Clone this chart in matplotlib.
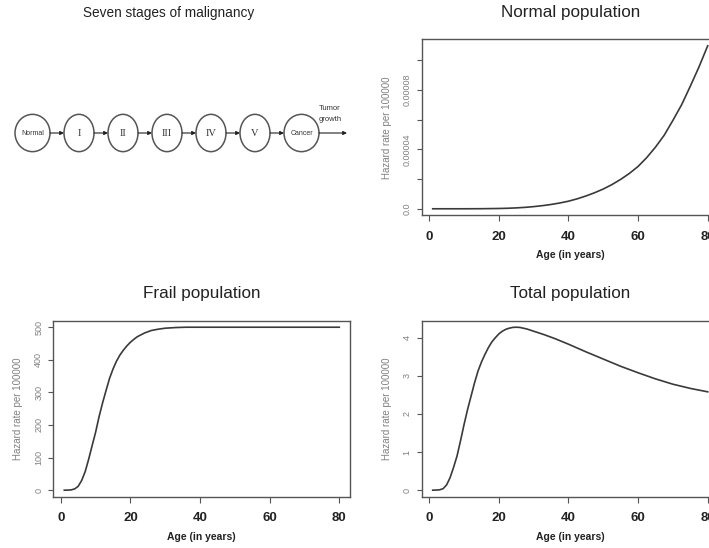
import matplotlib
matplotlib.use("Agg")
import matplotlib.pyplot as plt
from matplotlib.patches import Ellipse, FancyArrowPatch

plt.rcParams['font.family'] = ['Liberation Sans', 'DejaVu Sans']

# ---------------- data ----------------
stage_labels = ["Normal", "I", "II", "III", "IV", "V", "Cancer"]
end_label = "Tumor\ngrowth"

normal_age = [1, 10, 15, 20, 22.5, 25, 27.5, 30, 32.5, 35, 37.5, 40, 42.5, 45, 47.5, 50, 52.5,
              55, 57.5, 60, 62.5, 65, 67.5, 70, 72.5, 75, 77.5, 80]
normal_rate = [0.0, 0.0, 5.0e-8, 2.0e-7, 3.5e-7, 6.0e-7, 9.5e-7, 1.45e-6, 2.1e-6, 2.9e-6,
               3.9e-6, 5.1e-6, 6.7e-6, 8.6e-6, 1.08e-5, 1.33e-5, 1.63e-5, 1.98e-5, 2.38e-5,
               2.85e-5, 3.45e-5, 4.15e-5, 4.95e-5, 5.95e-5, 7.0e-5, 8.25e-5, 9.55e-5, 1.097e-4]

frail_age = [1, 2, 3, 4, 5, 6, 7, 8, 9, 10, 11, 12, 13, 14, 15, 16, 17, 18, 19, 20, 21, 22,
             24, 26, 28, 30, 33, 36, 40, 50, 60, 70, 80]
frail_rate = [0, 0.2, 1, 4, 12, 30, 57, 95, 137, 178, 226, 268, 306, 343, 372, 396, 415, 430,
              443, 454, 463, 471, 482, 490, 494, 497, 499, 500, 500, 500, 500, 500, 500]

total_age = [1, 2, 3, 4, 5, 6, 7, 8, 9, 10, 11, 12, 13, 14, 15, 16, 17, 18, 19, 20, 21, 22,
             23, 24, 25, 26, 28, 30, 33, 36, 40, 45, 50, 55, 60, 65, 70, 75, 80]
total_rate = [0, 0.003, 0.01, 0.04, 0.14, 0.33, 0.6, 0.9, 1.3, 1.72, 2.11, 2.46, 2.81, 3.12,
              3.36, 3.56, 3.74, 3.89, 4.0, 4.1, 4.17, 4.22, 4.25, 4.27, 4.275, 4.27, 4.23,
              4.17, 4.08, 3.98, 3.83, 3.63, 3.44, 3.25, 3.08, 2.92, 2.78, 2.67, 2.58]

x_ticks = [0, 20, 40, 60, 80]
normal_yticks = [0, 2e-5, 4e-5, 6e-5, 8e-5, 1e-4]
normal_yticklabels = ["0.0", "", "0.00004", "", "0.00008", ""]
frail_yticks = [0, 100, 200, 300, 400, 500]
total_yticks = [0, 1, 2, 3, 4]

xlabel = "Age (in years)"
ylabel = "Hazard rate per 100000"

# ---------------- figure ----------------
W, H = 709, 548
fig = plt.figure(figsize=(W / 100, H / 100), dpi=100)

LINE = "#3a3a3a"
FRAME = "#555555"
GRAY = "#808080"


def px_axes(left, top, width, height):
    return fig.add_axes([left / W, 1 - (top + height) / H, width / W, height / H])


def style_panel(ax, age, rate, title, yticks, yticklabels=None):
    ax.plot(age, rate, color=LINE, lw=1.2)
    lo, hi = min(age), max(age)
    r = hi - lo
    ax.set_xlim(lo - 0.04 * r, hi + 0.04 * r)
    ylo, yhi = min(rate), max(rate)
    yr = yhi - ylo
    ax.set_ylim(ylo - 0.04 * yr, yhi + 0.04 * yr)
    ax.set_xticks(x_ticks)
    ax.set_xticklabels([str(t) for t in x_ticks], fontsize=9.5, fontweight='bold', color="#222222")
    ax.set_yticks(yticks)
    if yticklabels is None:
        yticklabels = [str(t) for t in yticks]
    ax.set_yticklabels(yticklabels, fontsize=6.5, color=GRAY, rotation=90, va='center')
    ax.tick_params(axis='x', length=4, width=0.8, color=FRAME, pad=7)
    ax.tick_params(axis='y', length=3.3, width=0.8, color=FRAME, pad=4)
    for s in ax.spines.values():
        s.set_color(FRAME)
        s.set_linewidth(1.0)
    ax.set_title(title, fontsize=12.3, pad=16, color="#222222")
    ax.set_xlabel(xlabel, fontsize=7.5, fontweight='bold', color="#222222")
    ax.xaxis.set_label_coords(0.5, -35 / 176)
    ax.xaxis.label.set_va('top')
    ax.set_ylabel(ylabel, fontsize=7, color=GRAY)
    ax.yaxis.label.set_va('center')
    ax.yaxis.set_label_coords(-35 / 297, 0.5)


PW, PH = 297, 176
ax_n = px_axes(421.7, 39.3, PW, PH)
style_panel(ax_n, normal_age, normal_rate, "Normal population", normal_yticks, normal_yticklabels)

ax_f = px_axes(53.3, 320.7, PW, PH)
style_panel(ax_f, frail_age, frail_rate, "Frail population", frail_yticks)

ax_t = px_axes(421.7, 320.7, PW, PH)
style_panel(ax_t, total_age, total_rate, "Total population", total_yticks)

# ---------------- diagram ----------------
ax_d = px_axes(0, 0, 360, 270)
ax_d.set_xlim(0, 360)
ax_d.set_ylim(270, 0)
ax_d.axis('off')

ax_d.text(168.7, 17.3, "Seven stages of malignancy", fontsize=9.8, ha='center', va='baseline',
          color="#222222")

cy = 133
eh = 37.3
gap = 14
x = 15
edges = []
for lab in stage_labels:
    big = lab in ("Normal", "Cancer")
    w = 35 if big else 30
    ax_d.add_patch(Ellipse((x + w / 2, cy), w, eh, fill=False, ec="#555555", lw=1.1))
    if big:
        ax_d.text(x + w / 2, cy + 0.5, lab, fontsize=5, ha='center', va='center', color="#333333")
    else:
        ax_d.text(x + w / 2, cy, lab, fontsize=7.5, ha='center', va='center', color="#333333",
                  family=['Liberation Serif', 'DejaVu Serif'])
    edges.append((x, x + w))
    x += w + gap

arrow_kw = dict(arrowstyle='-|>,head_length=2.2,head_width=1.1', color="#222222", lw=0.8,
                shrinkA=0, shrinkB=0, mutation_scale=1)
for (a, b), (c, d) in zip(edges[:-1], edges[1:]):
    ax_d.add_patch(FancyArrowPatch((b, cy), (c, cy), **arrow_kw))
last = edges[-1][1]
ax_d.add_patch(FancyArrowPatch((last, cy), (last + 28, cy), **arrow_kw))
ax_d.text(last + 11, 114, end_label, fontsize=5.5, ha='center', va='center', color="#333333",
          linespacing=1.75)

fig.savefig("out.png", dpi=100)
